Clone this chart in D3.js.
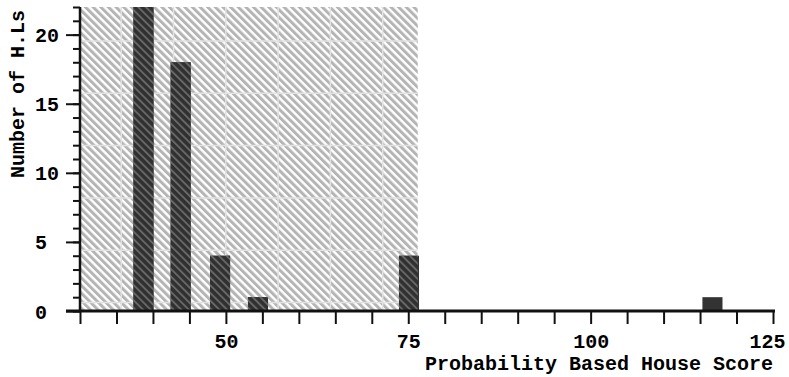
<!DOCTYPE html>
<html>
<head>
<meta charset="utf-8">
<script src="https://cdn.jsdelivr.net/npm/d3@7"></script>
<style>
  html, body { margin: 0; padding: 0; background: #fff; }
  svg { display: block; }
  text { font-family: "Liberation Mono", "DejaVu Sans Mono", monospace; font-weight: bold; fill: #000; }
</style>
</head>
<body>
<svg id="chart" width="789" height="377"></svg>
<script>
// Histogram of scores: bar centre (score) and count of H.Ls
const scores = [38.7, 43.8, 49.2, 54.4, 75.1, 116.7];
const counts = [22, 18, 4, 1, 4, 1];
const barSpan = 2.75;                 // bar width in score units
const shadedRange = [30, 76.3];       // hatched score band
const xTicks = d3.range(30, 126, 5);
const xLabels = [50, 75, 100, 125];
const yTicks = d3.range(0, 23, 1);
const yLabels = [0, 5, 10, 15, 20];
const xTitle = "Probability Based House Score";
const yTitle = "Number of H.Ls";

const svg = d3.select("#chart");

const x = d3.scaleLinear().domain([30, 125]).range([80, 773]);
const y = d3.scaleLinear().domain([0, 22]).range([311, 7]);

const defs = svg.append("defs");
const period = 5.4;

// light diagonal hatch for the band
const hatch = defs.append("pattern")
  .attr("id", "hatch").attr("patternUnits", "userSpaceOnUse")
  .attr("width", period).attr("height", period)
  .attr("patternTransform", "rotate(-45)");
hatch.append("rect").attr("width", period).attr("height", period).attr("fill", "#ffffff");
hatch.append("rect").attr("width", period * 0.55).attr("height", period).attr("fill", "#b4b4b4");

// darker hatch for bars that sit in the band
const hatchDark = defs.append("pattern")
  .attr("id", "hatchDark").attr("patternUnits", "userSpaceOnUse")
  .attr("width", period).attr("height", period)
  .attr("patternTransform", "rotate(-45)");
hatchDark.append("rect").attr("width", period).attr("height", period).attr("fill", "#303030");
hatchDark.append("rect").attr("width", period * 0.35).attr("height", period).attr("fill", "#686868");

const band = {
  x0: x(shadedRange[0]), x1: x(shadedRange[1]),
  y0: y(22), y1: y(0)
};

defs.append("clipPath").attr("id", "bandClip")
  .append("rect")
  .attr("x", band.x0).attr("y", band.y0)
  .attr("width", band.x1 - band.x0).attr("height", band.y1 - band.y0);

// hatched band
svg.append("rect")
  .attr("x", band.x0).attr("y", band.y0)
  .attr("width", band.x1 - band.x0).attr("height", band.y1 - band.y0)
  .attr("fill", "url(#hatch)");

// faint texture grid over the band
const grid = svg.append("g").attr("clip-path", "url(#bandClip)")
  .attr("stroke", "#e2e2e2").attr("stroke-width", 1.5);
const cell = 52.3;
d3.range(121.2 - cell, band.x1, cell).forEach(gx => {
  grid.append("line").attr("x1", gx).attr("x2", gx).attr("y1", band.y0).attr("y2", band.y1);
});
d3.range(41, band.y1, cell).forEach(gy => {
  grid.append("line").attr("y1", gy).attr("y2", gy).attr("x1", band.x0).attr("x2", band.x1);
});

const data = scores.map((s, i) => ({ score: s, count: counts[i] }));

// solid bars
svg.append("g").selectAll("rect").data(data).join("rect")
  .attr("x", d => x(d.score - barSpan / 2))
  .attr("width", d => x(d.score + barSpan / 2) - x(d.score - barSpan / 2))
  .attr("y", d => y(Math.min(d.count, 22)))
  .attr("height", d => y(0) - y(Math.min(d.count, 22)))
  .attr("fill", "#333333");

// hatched overlay on bars inside the band
svg.append("g").attr("clip-path", "url(#bandClip)")
  .selectAll("rect").data(data.filter(d => d.score < shadedRange[1])).join("rect")
  .attr("x", d => x(d.score - barSpan / 2))
  .attr("width", d => x(d.score + barSpan / 2) - x(d.score - barSpan / 2))
  .attr("y", d => y(Math.min(d.count, 22)))
  .attr("height", d => y(0) - y(Math.min(d.count, 22)))
  .attr("fill", "url(#hatchDark)");

// y axis: minor ticks at every unit, longer ticks with labels every 5
const yMinor = svg.append("g").attr("transform", `translate(${x(30)},0)`)
  .call(d3.axisLeft(y).tickValues(yTicks).tickSize(7).tickFormat(""));
yMinor.select(".domain").remove();
yMinor.selectAll(".tick line").attr("stroke", "#111").attr("stroke-width", 2);

const yMajor = svg.append("g").attr("transform", `translate(${x(30)},0)`)
  .call(d3.axisLeft(y).tickValues(yLabels).tickSize(14).tickPadding(0));
yMajor.select(".domain").remove();
yMajor.selectAll(".tick line").attr("stroke", "#111").attr("stroke-width", 2);
yMajor.selectAll(".tick text")
  .attr("x", -45).attr("text-anchor", "start").attr("dy", "0.35em")
  .style("font-size", "20px");

svg.append("line")
  .attr("x1", x(30)).attr("x2", x(30))
  .attr("y1", y(22)).attr("y2", y(0))
  .attr("stroke", "#111").attr("stroke-width", 2.5);

// x axis
const xAxis = svg.append("g").attr("transform", `translate(0,${y(0)})`)
  .call(d3.axisBottom(x).tickValues(xTicks).tickSize(13).tickPadding(6)
    .tickFormat(d => xLabels.includes(d) ? d : ""));
xAxis.select(".domain").remove();
xAxis.selectAll(".tick line").attr("stroke", "#111").attr("stroke-width", 2);
xAxis.selectAll(".tick text").attr("dy", "0.9em").style("font-size", "20px");
// keep the last label inside the right edge
xAxis.selectAll(".tick text").filter(d => d === 125).attr("x", -6);

svg.append("line")
  .attr("x1", x(30) - 14).attr("x2", x(125) + 2)
  .attr("y1", y(0)).attr("y2", y(0))
  .attr("stroke", "#111").attr("stroke-width", 3);

// axis titles
svg.append("text")
  .attr("x", x(125)).attr("y", 370)
  .attr("text-anchor", "end")
  .style("font-size", "20px")
  .text(xTitle);

svg.append("text")
  .attr("transform", `translate(24,94) rotate(-90)`)
  .attr("text-anchor", "middle")
  .style("font-size", "20px")
  .text(yTitle);
</script>
</body>
</html>
